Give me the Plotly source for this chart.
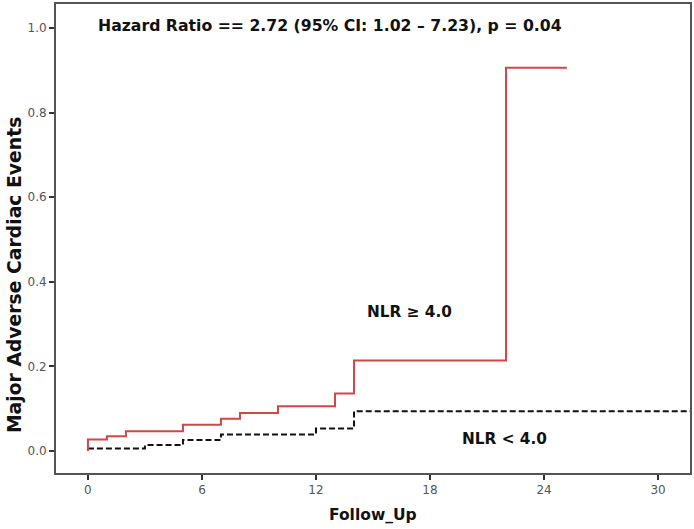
import plotly.graph_objects as go

# Data (step times in months, cumulative event probability)
high_t = [0, 0, 1, 2, 5, 7, 8, 10, 13, 14, 22, 25.2]
high_y = [0, 0.027, 0.035, 0.047, 0.062, 0.076, 0.09, 0.106, 0.136, 0.214, 0.906, 0.906]
low_t = [0, 3, 5, 7, 12, 14, 31.7]
low_y = [0.006, 0.014, 0.026, 0.039, 0.053, 0.094, 0.094]

x_ticks = [0, 6, 12, 18, 24, 30]
y_ticks = [0.0, 0.2, 0.4, 0.6, 0.8, 1.0]

fig = go.Figure()
fig.add_trace(go.Scatter(x=low_t, y=low_y, mode="lines", line_shape="hv",
                         line=dict(color="#111111", width=2, dash="6px,3px"),
                         name="NLR < 4.0", showlegend=False))
fig.add_trace(go.Scatter(x=high_t, y=high_y, mode="lines", line_shape="hv",
                         line=dict(color="#d44545", width=2),
                         name="NLR ≥ 4.0", showlegend=False))

font_fam = "DejaVu Sans"
fig.add_annotation(x=0.45, y=1.005, xref="x", yref="y", xanchor="left", yanchor="middle",
                   text="<b>Hazard Ratio == 2.72 (95% CI: 1.02 – 7.23), p = 0.04</b>",
                   showarrow=False, font=dict(family=font_fam, size=15.7, color="#111"))
fig.add_annotation(x=16.9, y=0.329, xref="x", yref="y", xanchor="center", yanchor="middle",
                   text="<b>NLR ≥ 4.0</b>", showarrow=False,
                   font=dict(family=font_fam, size=15.3, color="#111"))
fig.add_annotation(x=21.9, y=0.029, xref="x", yref="y", xanchor="center", yanchor="middle",
                   text="<b>NLR < 4.0</b>", showarrow=False,
                   font=dict(family=font_fam, size=15.3, color="#111"))
# axis titles
fig.add_annotation(x=-0.0662, y=0.422, xref="paper", yref="paper", xanchor="center", yanchor="middle",
                   text="<b>Major Adverse Cardiac Events</b>", textangle=-90, showarrow=False,
                   font=dict(family=font_fam, size=18.8, color="#111"))
fig.add_annotation(x=0.5, y=-0.0896, xref="paper", yref="paper", xanchor="center", yanchor="middle",
                   text="<b>Follow_Up</b>", showarrow=False,
                   font=dict(family=font_fam, size=15.5, color="#111"))

fig.update_layout(
    width=694, height=529,
    margin=dict(l=56, r=4, t=4, b=56),
    paper_bgcolor="white", plot_bgcolor="white",
    font=dict(family=font_fam, color="#555"),
    xaxis=dict(range=[-1.68, 31.68], tickvals=x_ticks, ticks="outside", ticklen=5,
               tickcolor="#333", tickwidth=1.5, showgrid=False, zeroline=False,
               showline=True, linecolor="#555", linewidth=2, mirror=True, automargin=False,
               tickfont=dict(size=12, color="#555")),
    yaxis=dict(range=[-0.052, 1.057], tickvals=y_ticks, tickformat=".1f", ticks="outside",
               ticklen=5, tickcolor="#333", tickwidth=1.5, showgrid=False, zeroline=False,
               showline=True, linecolor="#555", linewidth=2, mirror=True, automargin=False,
               tickfont=dict(size=12, color="#555")),
)

fig.write_html("out.html", config={"displayModeBar": False},
               post_script="document.body.style.margin='0';document.body.style.padding='0';"
                           "document.body.style.overflow='hidden';")
